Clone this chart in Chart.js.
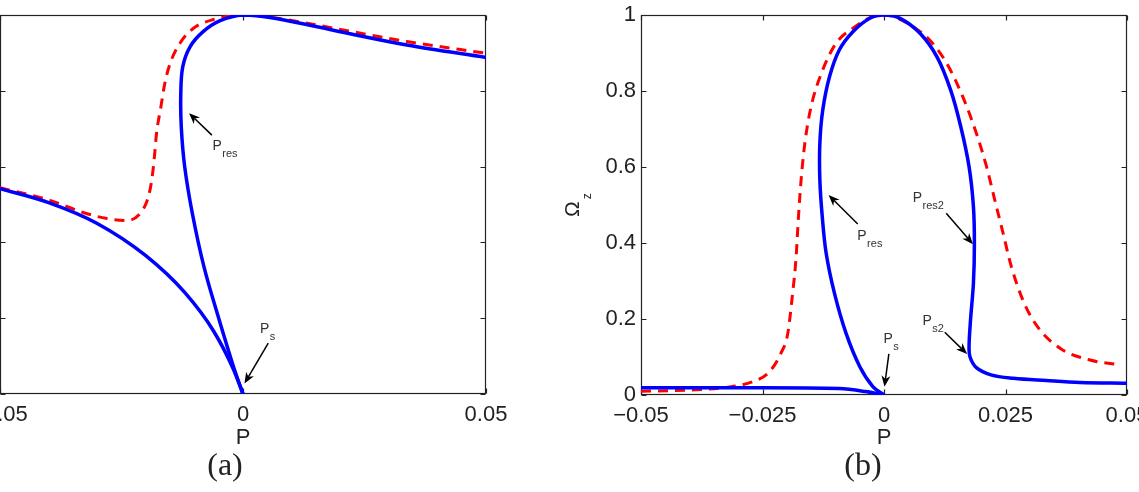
<!DOCTYPE html>
<html>
<head>
<meta charset="utf-8">
<title>Omega_z vs P</title>
<script src="https://cdn.jsdelivr.net/npm/chart.js@4/dist/chart.umd.min.js"></script>
<style>
    html, body { margin: 0; padding: 0; background: #fff; overflow: hidden; }
    body { width: 1139px; height: 492px; position: relative; }
    .panel { position: absolute; top: 0; height: 492px; }
    #wrapA { left: -81px; width: 642px; }
    #wrapB { left: 560px; width: 579px; }
</style>
</head>
<body>
<div class="panel" id="wrapA"><canvas id="chartA"></canvas></div>
<div class="panel" id="wrapB"><canvas id="chartB"></canvas></div>

<script>
/* tick values and labels */
const aTicksX = [-0.05, 0, 0.05];
const aTickLabelsX = ["\u22120.05", "0", "0.05"];
const bTicksX = [-0.05, -0.025, 0, 0.025, 0.05];
const bTickLabelsX = ["\u22120.05", "\u22120.025", "0", "0.025", "0.05"];
const yTicks = [0, 0.2, 0.4, 0.6, 0.8, 1];
const yTickLabels = ["0", "0.2", "0.4", "0.6", "0.8", "1"];

/* panel (a) – solid blue, lower branch (left edge -> P_s) */
const aBlueLowX = [-0.05, -0.04, -0.03, -0.02, -0.012, -0.006, -0.002, 0];
const aBlueLowY = [0.542, 0.505, 0.450, 0.365, 0.268, 0.165, 0.066, 0];
/* panel (a) – solid blue, upper branch (P_s -> top -> right edge) */
const aBlueUpX = [0, -0.0019, -0.0050, -0.0080, -0.0104, -0.0120, -0.0127, -0.0128, -0.0124, -0.0109, -0.0082, -0.0047, 0, 0.0062, 0.020, 0.0337, 0.05];
const aBlueUpY = [0, 0.070, 0.200, 0.334, 0.475, 0.600, 0.705, 0.793, 0.863, 0.916, 0.956, 0.985, 1.0, 0.992, 0.956, 0.921, 0.888];
/* panel (a) – dashed red */
const aRedX = [-0.05, -0.0397, -0.0329, -0.0280, -0.0239, -0.0212, -0.0195, -0.0188, -0.0183, -0.0178, -0.0169, -0.0161, -0.0150, -0.0130, -0.0102, -0.0061, 0, 0.0062, 0.020, 0.0337, 0.05];
const aRedY = [0.544, 0.511, 0.479, 0.463, 0.458, 0.476, 0.519, 0.563, 0.616, 0.687, 0.757, 0.819, 0.872, 0.925, 0.965, 0.988, 1.0, 0.993, 0.962, 0.93, 0.899];

/* panel (b) – solid blue, flat left part (left edge -> P_s) */
const bBlueLowX = [-0.05, -0.025, -0.0092, -0.0038, 0];
const bBlueLowY = [0.019, 0.019, 0.017, 0.009, 0];
/* panel (b) – solid blue, loop and right part */
const bBlueUpX = [0, -0.0023, -0.0050, -0.0078, -0.0102, -0.0119, -0.0127, -0.0132, -0.0132, -0.0126, -0.0112, -0.0092, -0.0064, -0.0030, 0,
    0.0033, 0.0074, 0.0109, 0.0137, 0.0158, 0.0175, 0.0184, 0.0186, 0.0184, 0.0178, 0.0175, 0.0177, 0.0190, 0.0220, 0.0266, 0.0334, 0.0403, 0.05];
const bBlueUpY = [0, 0.022, 0.075, 0.162, 0.268, 0.373, 0.469, 0.566, 0.662, 0.75, 0.838, 0.908, 0.956, 0.991, 1.0,
    0.991, 0.952, 0.890, 0.803, 0.706, 0.601, 0.496, 0.399, 0.294, 0.197, 0.127, 0.10, 0.072, 0.053, 0.044, 0.038, 0.033, 0.031];
/* panel (b) – dashed red */
const bRedX = [-0.05, -0.04, -0.0325, -0.027, -0.0236, -0.0212, -0.0198, -0.0188, -0.0181, -0.0176, -0.0170, -0.0162, -0.0150, -0.0129, -0.0099, -0.0064, -0.0023, 0,
    0.0019, 0.0060, 0.0094, 0.0129, 0.0162, 0.0190, 0.0211, 0.0228, 0.0245, 0.0262, 0.0289, 0.0321, 0.0366, 0.0424, 0.0486];
const bRedY = [0.01, 0.013, 0.02, 0.035, 0.061, 0.11, 0.162, 0.268, 0.36, 0.469, 0.575, 0.671, 0.759, 0.846, 0.925, 0.965, 0.996, 1.0,
    0.996, 0.969, 0.934, 0.873, 0.785, 0.689, 0.601, 0.513, 0.426, 0.338, 0.24, 0.171, 0.12, 0.092, 0.079];

/* arrow annotations: text anchor (tx,ty), arrow tail (ax0,ay0), arrow tip (ax1,ay1) */
const aNotes = [
    { label: "P", sub: "res", tx: -0.0063, ty: 0.644, ax0: -0.0064, ay0: 0.683, ax1: -0.0111, ay1: 0.741 },
    { label: "P", sub: "s", tx: 0.0035, ty: 0.160, ax0: 0.0052, ay0: 0.134, ax1: 0.0003, ay1: 0.028 }
];
const bNotes = [
    { label: "P", sub: "res", tx: -0.0055, ty: 0.408, ax0: -0.0054, ay0: 0.45, ax1: -0.0114, ay1: 0.526 },
    { label: "P", sub: "s", tx: -0.0001, ty: 0.137, ax0: 0.0010, ay0: 0.108, ax1: 0.0001, ay1: 0.022 },
    { label: "P", sub: "res2", tx: 0.0059, ty: 0.509, ax0: 0.0128, ay0: 0.478, ax1: 0.0183, ay1: 0.397 },
    { label: "P", sub: "s2", tx: 0.0079, ty: 0.184, ax0: 0.0125, ay0: 0.165, ax1: 0.0171, ay1: 0.108 }
];

const SANS = '"Liberation Sans", Arial, Helvetica, sans-serif';
const SERIF = '"Liberation Serif", "Times New Roman", serif';

function pts(xs, ys) {
    return xs.map((x, i) => ({ x: x, y: ys[i] }));
}

// monotone = x increases along the series, so a monotone cubic can be used
function curve(data, color, dashed, monotone) {
    const ds = {
        data: data,
        showLine: true,
        borderColor: color,
        backgroundColor: color,
        borderWidth: dashed ? 3 : 3.5,
        borderDash: dashed ? [10, 7] : [],
        pointRadius: 0,
        tension: 0.35,
        fill: false
    };
    if (monotone) ds.cubicInterpolationMode = "monotone";
    return ds;
}

/* box + inward tick marks, like the MATLAB axes */
const framePlugin = {
    id: "frame",
    beforeDatasetsDraw(chart) {
        const { ctx, chartArea: ca, scales } = chart;
        const l = Math.round(ca.left) + 0.5, r = Math.round(ca.right) - 0.5;
        const t = Math.round(ca.top) + 0.5, b = Math.round(ca.bottom) - 0.5;
        ctx.save();
        ctx.strokeStyle = "#222";
        ctx.lineWidth = 1.2;
        ctx.strokeRect(l, t, r - l, b - t);
        ctx.beginPath();
        scales.x.ticks.forEach(tk => {
            const px = Math.round(scales.x.getPixelForValue(tk.value)) + 0.5;
            ctx.moveTo(px, b); ctx.lineTo(px, b - 5);
            ctx.moveTo(px, t); ctx.lineTo(px, t + 5);
        });
        scales.y.ticks.forEach(tk => {
            const py = Math.round(scales.y.getPixelForValue(tk.value)) + 0.5;
            ctx.moveTo(l, py); ctx.lineTo(l + 5, py);
            ctx.moveTo(r, py); ctx.lineTo(r - 5, py);
        });
        ctx.stroke();
        ctx.restore();
    }
};

/* P_xxx labels with arrows, y-axis label and (a)/(b) caption */
const notesPlugin = {
    id: "notes",
    afterDraw(chart, args, opts) {
        const { ctx, chartArea: ca, scales: { x, y } } = chart;
        ctx.save();
        (opts.items || []).forEach(n => {
            const tx = x.getPixelForValue(n.tx), ty = y.getPixelForValue(n.ty);
            ctx.fillStyle = "#333";
            ctx.textAlign = "left";
            ctx.textBaseline = "alphabetic";
            ctx.font = "14px " + SANS;
            ctx.fillText(n.label, tx, ty);
            const w = ctx.measureText(n.label).width;
            ctx.font = "11px " + SANS;
            ctx.fillText(n.sub, tx + w + 0.5, ty + 7);

            const x0 = x.getPixelForValue(n.ax0), y0 = y.getPixelForValue(n.ay0);
            const x1 = x.getPixelForValue(n.ax1), y1 = y.getPixelForValue(n.ay1);
            const ang = Math.atan2(y1 - y0, x1 - x0);
            const c = Math.cos(ang), s = Math.sin(ang);
            const hl = 11, hw = 4.5;
            ctx.strokeStyle = "#000";
            ctx.lineWidth = 1.5;
            ctx.beginPath();
            ctx.moveTo(x0, y0);
            ctx.lineTo(x1 - hl * 0.7 * c, y1 - hl * 0.7 * s);
            ctx.stroke();
            ctx.fillStyle = "#000";
            ctx.beginPath();
            ctx.moveTo(x1, y1);
            ctx.lineTo(x1 - hl * c - hw * s, y1 - hl * s + hw * c);
            ctx.lineTo(x1 - hl * 0.7 * c, y1 - hl * 0.7 * s);
            ctx.lineTo(x1 - hl * c + hw * s, y1 - hl * s - hw * c);
            ctx.closePath();
            ctx.fill();
        });

        // Omega_z, rotated
        ctx.save();
        ctx.translate(ca.left - 62, 217);
        ctx.rotate(-Math.PI / 2);
        ctx.fillStyle = "#222";
        ctx.textAlign = "left";
        ctx.textBaseline = "alphabetic";
        ctx.font = "21px " + SANS;
        ctx.fillText("\u03A9", 0, 0);
        const ow = ctx.measureText("\u03A9").width;
        ctx.font = "12px " + SANS;
        ctx.fillText("z", ow + 2, 12);
        ctx.restore();

        // caption
        ctx.fillStyle = "#222";
        ctx.textAlign = "center";
        ctx.textBaseline = "alphabetic";
        ctx.font = "32px " + SERIF;
        ctx.fillText(opts.caption, ca.left + opts.captionX, 475);
        ctx.restore();
    }
};

function makePanel(canvasId, cfg) {
    const ctx = document.getElementById(canvasId).getContext("2d");
    return new Chart(ctx, {
        type: "scatter",
        data: {
            datasets: [
                curve(pts(cfg.blueLowX, cfg.blueLowY), "rgb(0,0,255)", false, true),
                curve(pts(cfg.blueUpX, cfg.blueUpY), "rgb(0,0,255)", false, false),
                curve(pts(cfg.redX, cfg.redY), "rgb(255,0,0)", true, true)
            ]
        },
        options: {
            responsive: true,
            maintainAspectRatio: false,
            animation: false,
            devicePixelRatio: 1,
            events: [],
            layout: { padding: { left: 0, top: 15, right: cfg.padRight, bottom: 36 } },
            plugins: {
                legend: { display: false },
                tooltip: { enabled: false },
                notes: { items: cfg.notes, caption: cfg.caption, captionX: cfg.captionX }
            },
            scales: {
                x: {
                    type: "linear",
                    position: "bottom",
                    min: -0.05,
                    max: 0.05,
                    afterBuildTicks: s => { s.ticks = cfg.ticksX.map(v => ({ value: v })); },
                    afterFit: s => {
                        s.height = 492 - 36 - cfg.bottom;
                        s.paddingLeft = 0;
                        s.paddingRight = 0;
                    },
                    ticks: {
                        autoSkip: false,
                        maxRotation: 0,
                        padding: 8,
                        color: "#222",
                        font: { family: SANS, size: 22 },
                        callback: (v, i) => cfg.tickLabelsX[i]
                    },
                    grid: { display: false, drawTicks: false },
                    border: { display: false },
                    title: {
                        display: true,
                        text: "P",
                        color: "#222",
                        font: { family: SANS, size: 22 },
                        padding: { top: 0, bottom: 5 }
                    }
                },
                y: {
                    type: "linear",
                    min: 0,
                    max: 1,
                    afterBuildTicks: s => { s.ticks = yTicks.map(v => ({ value: v })); },
                    afterFit: s => {
                        s.width = 81;
                        s.paddingTop = 0;
                        s.paddingBottom = 0;
                    },
                    ticks: {
                        padding: 5,
                        color: "#222",
                        font: { family: SANS, size: 22 },
                        callback: (v, i) => yTickLabels[i]
                    },
                    grid: { display: false, drawTicks: false },
                    border: { display: false }
                }
            }
        },
        plugins: [framePlugin, notesPlugin]
    });
}

document.addEventListener("DOMContentLoaded", () => {
    makePanel("chartA", {
        blueLowX: aBlueLowX, blueLowY: aBlueLowY,
        blueUpX: aBlueUpX, blueUpY: aBlueUpY,
        redX: aRedX, redY: aRedY,
        ticksX: aTicksX, tickLabelsX: aTickLabelsX,
        notes: aNotes,
        caption: "(a)", captionX: 225,
        padRight: 75, bottom: 394
    });
    makePanel("chartB", {
        blueLowX: bBlueLowX, blueLowY: bBlueLowY,
        blueUpX: bBlueUpX, blueUpY: bBlueUpY,
        redX: bRedX, redY: bRedY,
        ticksX: bTicksX, tickLabelsX: bTickLabelsX,
        notes: bNotes,
        caption: "(b)", captionX: 222,
        padRight: 12, bottom: 395
    });
});
</script>
</body>
</html>
